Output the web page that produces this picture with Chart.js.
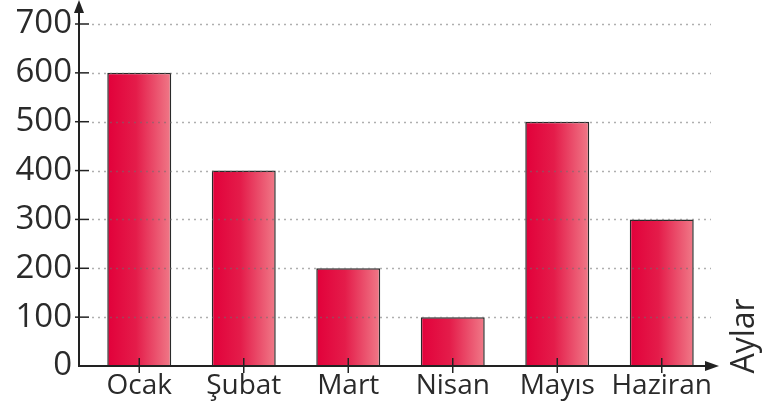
<!DOCTYPE html>
<html>
<head>
<meta charset="utf-8">
<script src="https://cdn.jsdelivr.net/npm/chart.js@4/dist/chart.umd.min.js"></script>
<style>
  body { margin: 0; background: #fff; }
  canvas { display: block; }
</style>
</head>
<body>
<canvas id="barChart" width="782" height="416"></canvas>
<script>
const months = ['Ocak', 'Şubat', 'Mart', 'Nisan', 'Mayıs', 'Haziran'];
const amounts = [600, 400, 200, 100, 500, 300];
const yMax = 700;
const yStep = 100;
const axisTitle = 'Aylar';

const textFont = '"Open Sans", "DejaVu Sans", sans-serif';
const inkColor = '#2a2a2a';

// kırmızı degrade, her çubuk için soldan sağa
function barGradient(context) {
  const chart = context.chart;
  const xScale = chart.scales.x;
  if (!chart.chartArea || !xScale) return '#e4003c';
  const cx = xScale.getPixelForValue(context.dataIndex);
  const half = 32;
  const g = chart.ctx.createLinearGradient(cx - half, 0, cx + half, 0);
  g.addColorStop(0, '#e2003a');
  g.addColorStop(0.45, '#e41c4a');
  g.addColorStop(1, '#f07a88');
  return g;
}

// eksenler, oklar, noktalı çizgiler ve "Aylar" yazısı
const axesPlugin = {
  id: 'axesPlugin',
  afterDatasetsDraw(chart) {
    const ctx = chart.ctx;
    const x = chart.scales.x;
    const y = chart.scales.y;
    const originX = 79;
    const originY = y.getPixelForValue(0);

    ctx.save();
    // noktalı yatay çizgiler
    ctx.strokeStyle = 'rgba(110,110,110,0.55)';
    ctx.lineWidth = 1.5;
    ctx.setLineDash([2, 4]);
    y.ticks.forEach(t => {
      if (t.value === 0) return;
      const py = Math.round(y.getPixelForValue(t.value)) + 0.5;
      ctx.beginPath();
      ctx.moveTo(92, py);
      ctx.lineTo(711, py);
      ctx.stroke();
    });
    ctx.setLineDash([]);

    ctx.strokeStyle = '#222';
    ctx.fillStyle = '#222';
    ctx.lineWidth = 2;

    // y ekseni
    ctx.beginPath();
    ctx.moveTo(originX, originY + 1);
    ctx.lineTo(originX, 8);
    ctx.stroke();
    ctx.beginPath();
    ctx.moveTo(originX, 0);
    ctx.lineTo(originX - 5, 13);
    ctx.lineTo(originX + 5, 13);
    ctx.closePath();
    ctx.fill();

    // x ekseni
    ctx.beginPath();
    ctx.moveTo(originX - 1, originY);
    ctx.lineTo(710, originY);
    ctx.stroke();
    ctx.beginPath();
    ctx.moveTo(719, originY);
    ctx.lineTo(705, originY - 5);
    ctx.lineTo(705, originY + 5);
    ctx.closePath();
    ctx.fill();

    // y çentikleri
    ctx.lineWidth = 1.5;
    y.ticks.forEach(t => {
      if (t.value === 0) return;
      const py = y.getPixelForValue(t.value);
      ctx.beginPath();
      ctx.moveTo(75, py);
      ctx.lineTo(89, py);
      ctx.stroke();
    });
    // x çentikleri
    months.forEach((m, i) => {
      const px = x.getPixelForValue(i);
      ctx.beginPath();
      ctx.moveTo(px, originY - 8);
      ctx.lineTo(px, originY + 7);
      ctx.stroke();
    });

    // eksen başlığı
    ctx.translate(745, 336);
    ctx.rotate(-Math.PI / 2);
    ctx.font = '32px ' + textFont;
    ctx.fillStyle = inkColor;
    ctx.textAlign = 'center';
    ctx.textBaseline = 'middle';
    ctx.fillText(axisTitle, 0, 0);
    ctx.restore();
  }
};

new Chart(document.getElementById('barChart'), {
  type: 'bar',
  data: {
    labels: months,
    datasets: [{
      data: amounts,
      backgroundColor: barGradient,
      borderColor: '#2a2a2a',
      borderWidth: 1.5,
      borderSkipped: 'start',
      categoryPercentage: 1,
      barPercentage: 0.612
    }]
  },
  options: {
    responsive: false,
    animation: false,
    layout: { padding: { top: 24, right: 68, bottom: 0, left: 0 } },
    plugins: {
      legend: { display: false },
      tooltip: { enabled: false }
    },
    scales: {
      x: {
        grid: { display: false, drawTicks: false },
        border: { display: false },
        ticks: {
          color: inkColor,
          font: { family: textFont, size: 28 },
          padding: 3,
          maxRotation: 0,
          autoSkip: false
        },
        afterFit(s) {
          s.height = 50;
          s.paddingLeft = 0;
          s.paddingRight = 0;
        }
      },
      y: {
        min: 0,
        max: yMax,
        grid: { display: false, drawTicks: false },
        border: { display: false },
        ticks: {
          stepSize: yStep,
          color: inkColor,
          font: { family: textFont, size: 33 },
          padding: 15
        },
        afterFit(s) {
          s.width = 87;
          s.paddingTop = 0;
          s.paddingBottom = 0;
        }
      }
    }
  },
  plugins: [axesPlugin]
});
</script>
</body>
</html>
